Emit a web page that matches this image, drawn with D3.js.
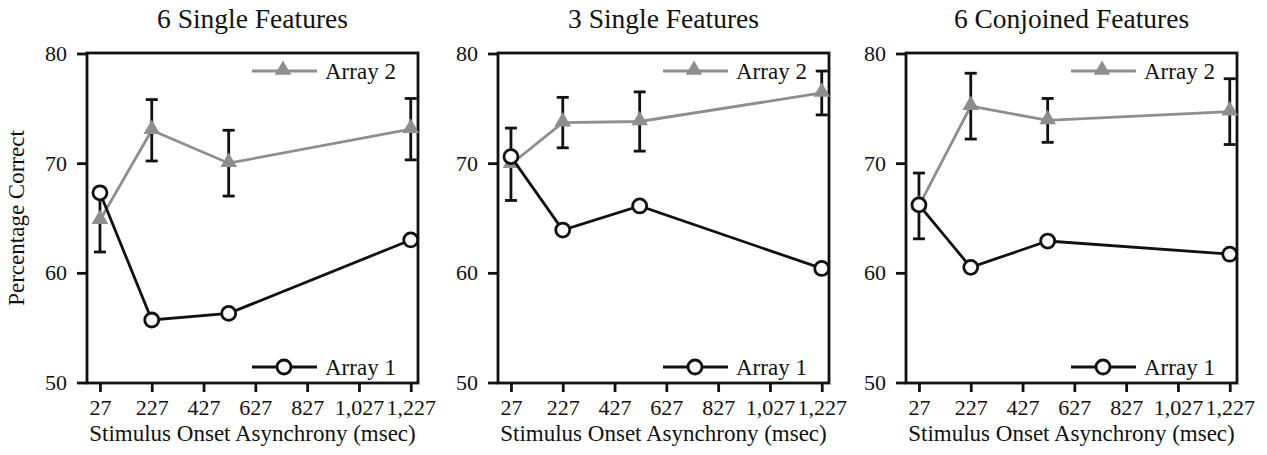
<!DOCTYPE html>
<html>
<head>
<meta charset="utf-8">
<script src="https://cdnjs.cloudflare.com/ajax/libs/d3/7.8.5/d3.min.js"></script>
<style>
  body { margin: 0; background: #fff; }
  text { font-family: "Liberation Serif", "Times New Roman", serif; fill: #111; }
</style>
</head>
<body>
<div id="chart"></div>
<script>
//Data
var soa = [27, 227, 524, 1227];
var xTicks = [27, 227, 427, 627, 827, 1027, 1227];
var yTicks = [50, 60, 70, 80];
var titles = ["6 Single Features", "3 Single Features", "6 Conjoined Features"];

//Array 1 (open circles)
var array1 = [
	[67.3, 55.7, 56.3, 63.0],
	[70.6, 63.9, 66.1, 60.4],
	[66.2, 60.5, 62.9, 61.7]
];
//Array 2 (grey triangles) and its error bars
var array2 = [
	[64.8, 73.0, 70.0, 73.1],
	[69.9, 73.7, 73.8, 76.4],
	[66.1, 75.2, 73.9, 74.7]
];
var array2Err = [
	[2.9, 2.8, 3.0, 2.8],
	[3.3, 2.3, 2.7, 2.0],
	[3.0, 3.0, 2.0, 3.0]
];

//Width and height
var w = 1267;
var h = 455;
var panelLeft = [87, 498, 906];
var pw = 331;
var marginTop = 53;
var ph = 330;
var grey = "#8e8e8e";
var lw = 2.8;

var svg = d3.select("#chart")
			.append("svg")
			.attr("width", w)
			.attr("height", h);

var x = d3.scaleLinear().domain([-23, 1255]).range([0, pw]);
var y = d3.scaleLinear().domain([50, 80]).range([ph - 0.5, 0.5]);

titles.forEach(function(title, p) {

	var g = svg.append("g")
			   .attr("transform", "translate(" + panelLeft[p] + "," + marginTop + ")");

	//axes
	var yAxis = d3.axisLeft(y).tickValues(yTicks).tickSize(10).tickPadding(10).tickSizeOuter(0);
	var xAxis = d3.axisBottom(x).tickValues(xTicks).tickSize(9).tickPadding(7).tickSizeOuter(0)
				  .tickFormat(d3.format(","));

	var ya = g.append("g").call(yAxis);
	var xa = g.append("g").attr("transform", "translate(0," + ph + ")").call(xAxis);

	[ya, xa].forEach(function(a) {
		a.select(".domain").remove();
		a.selectAll("line").attr("stroke", "#111").attr("stroke-width", lw);
		a.selectAll("text")
		 .attr("font-family", "Liberation Serif")
		 .attr("font-size", "22px")
		 .attr("fill", "#111");
	});

	//frame
	g.append("rect")
	 .attr("x", 0)
	 .attr("y", 0)
	 .attr("width", pw)
	 .attr("height", ph)
	 .attr("fill", "none")
	 .attr("stroke", "#111")
	 .attr("stroke-width", lw);

	//title
	g.append("text")
	 .attr("x", pw / 2)
	 .attr("y", -25)
	 .attr("text-anchor", "middle")
	 .attr("font-size", "27.5px")
	 .text(title);

	//x axis label
	g.append("text")
	 .attr("x", pw / 2)
	 .attr("y", ph + 58)
	 .attr("text-anchor", "middle")
	 .attr("font-size", "23px")
	 .text("Stimulus Onset Asynchrony (msec)");

	if (p === 0) {
		g.append("text")
		 .attr("transform", "translate(-63," + (ph / 2) + ") rotate(-90)")
		 .attr("text-anchor", "middle")
		 .attr("font-size", "23px")
		 .text("Percentage Correct");
	}

	var line = d3.line()
				 .x(function(d, i) { return x(soa[i]); })
				 .y(function(d) { return y(d); });

	//Array 2: line, error bars, triangles
	g.append("path")
	 .attr("d", line(array2[p]))
	 .attr("fill", "none")
	 .attr("stroke", grey)
	 .attr("stroke-width", lw);

	var bars = g.selectAll(".err")
				.data(array2[p])
				.enter()
				.append("g")
				.attr("class", "err")
				.attr("stroke", "#111")
				.attr("stroke-width", lw);

	bars.append("line")
		.attr("x1", function(d, i) { return x(soa[i]); })
		.attr("x2", function(d, i) { return x(soa[i]); })
		.attr("y1", function(d, i) { return y(d + array2Err[p][i]); })
		.attr("y2", function(d, i) { return y(d - array2Err[p][i]); });
	bars.append("line")
		.attr("x1", function(d, i) { return x(soa[i]) - 6; })
		.attr("x2", function(d, i) { return x(soa[i]) + 6; })
		.attr("y1", function(d, i) { return y(d + array2Err[p][i]); })
		.attr("y2", function(d, i) { return y(d + array2Err[p][i]); });
	bars.append("line")
		.attr("x1", function(d, i) { return x(soa[i]) - 6; })
		.attr("x2", function(d, i) { return x(soa[i]) + 6; })
		.attr("y1", function(d, i) { return y(d - array2Err[p][i]); })
		.attr("y2", function(d, i) { return y(d - array2Err[p][i]); });

	var tri = d3.symbol().type(d3.symbolTriangle).size(120);

	g.selectAll(".tri")
	 .data(array2[p])
	 .enter()
	 .append("path")
	 .attr("class", "tri")
	 .attr("d", tri)
	 .attr("transform", function(d, i) { return "translate(" + x(soa[i]) + "," + (y(d) - 1) + ")"; })
	 .attr("fill", grey);

	//Array 1: line and open circles
	g.append("path")
	 .attr("d", line(array1[p]))
	 .attr("fill", "none")
	 .attr("stroke", "#111")
	 .attr("stroke-width", lw);

	g.selectAll(".dot")
	 .data(array1[p])
	 .enter()
	 .append("circle")
	 .attr("class", "dot")
	 .attr("cx", function(d, i) { return x(soa[i]); })
	 .attr("cy", function(d) { return y(d); })
	 .attr("r", 7)
	 .attr("fill", "white")
	 .attr("stroke", "#111")
	 .attr("stroke-width", lw);

	//legend
	var lx = pw - 166;
	var leg2 = g.append("g").attr("transform", "translate(" + lx + ",18)");
	leg2.append("line").attr("x1", 0).attr("x2", 65).attr("stroke", grey).attr("stroke-width", lw);
	leg2.append("path").attr("d", tri).attr("transform", "translate(31,-1)").attr("fill", grey);
	leg2.append("text").attr("x", 73).attr("y", 8).attr("font-size", "23px").text("Array 2");

	var leg1 = g.append("g").attr("transform", "translate(" + lx + "," + (ph - 16) + ")");
	leg1.append("line").attr("x1", 0).attr("x2", 65).attr("stroke", "#111").attr("stroke-width", lw);
	leg1.append("circle").attr("cx", 32).attr("r", 7).attr("fill", "white")
		.attr("stroke", "#111").attr("stroke-width", lw);
	leg1.append("text").attr("x", 73).attr("y", 8).attr("font-size", "23px").text("Array 1");
});
</script>
</body>
</html>
